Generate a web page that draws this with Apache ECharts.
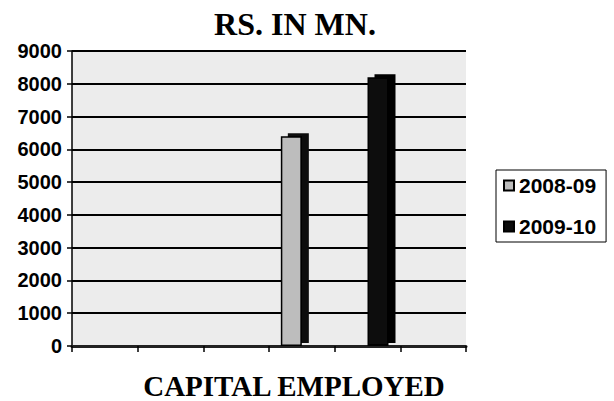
<!DOCTYPE html>
<html>
<head>
<meta charset="utf-8">
<script src="https://cdn.jsdelivr.net/npm/echarts@6/dist/echarts.min.js"></script>
<style>
  html, body { margin: 0; padding: 0; background: #fff; }
  #chart { width: 614px; height: 401px; }
</style>
</head>
<body>
<div id="chart"></div>
<script>
// categories on the x axis (unlabelled in the original)
var categories = ['', '', '', '', '', ''];
var seriesNames = ['2008-09', '2009-10'];
var values0809 = ['-', '-', '-', 6400, '-', '-'];
var values0910 = ['-', '-', '-', '-', 8200, '-'];
var yTicks = [0, 9000, 1000]; // min, max, step

var myChart = echarts.init(document.getElementById('chart'), null, { renderer: 'svg' });

var sans = '"Liberation Sans", Arial, sans-serif';
var serif = '"Liberation Serif", "Times New Roman", serif';

// dark side of the pseudo-3d column, only on the bars (not the legend icons)
function withSide(values, sideColor) {
    return values.map(function (v) {
        if (v === '-') return v;
        return {
            value: v,
            itemStyle: {
                shadowColor: sideColor,
                shadowBlur: 0,
                shadowOffsetX: 7,
                shadowOffsetY: -3
            }
        };
    });
}

var option = {
    animation: false,
    backgroundColor: '#fff',
    grid: {
        left: 72, right: 148, top: 51, bottom: 55,
        show: true,
        backgroundColor: '#ececec',
        borderWidth: 0
    },
    graphic: [{
        type: 'text',
        x: 295, y: 24,
        style: {
            text: 'RS. IN MN.',
            fill: '#000',
            font: 'bold 32px ' + serif,
            textAlign: 'center',
            textVerticalAlign: 'middle'
        }
    }, {
        type: 'text',
        x: 294, y: 386,
        style: {
            text: 'CAPITAL EMPLOYED',
            fill: '#000',
            font: 'bold 29px ' + serif,
            textAlign: 'center',
            textVerticalAlign: 'middle'
        }
    }],
    legend: {
        orient: 'vertical',
        left: 496,
        top: 170,
        padding: [5, 10, 5, 7],
        icon: 'rect',
        itemWidth: 10,
        itemHeight: 10,
        itemGap: 20,
        borderColor: '#000',
        borderWidth: 1,
        textStyle: { fontFamily: sans, fontWeight: 'bold', fontSize: 21, color: '#000' },
        data: seriesNames
    },
    xAxis: {
        type: 'category',
        data: categories,
        axisLine: { lineStyle: { color: '#222', width: 3 } },
        axisTick: { show: true, interval: 0, length: 6, lineStyle: { color: '#000', width: 1.5 } },
        axisLabel: { show: false },
        splitLine: { show: false }
    },
    yAxis: {
        type: 'value',
        min: yTicks[0],
        max: yTicks[1],
        interval: yTicks[2],
        axisLine: { show: true, lineStyle: { color: '#000', width: 1.5 } },
        axisTick: { show: true, length: 5, lineStyle: { color: '#000', width: 1.5 } },
        axisLabel: {
            margin: 10, fontFamily: sans, fontWeight: 'bold', fontSize: 20, color: '#000',
            formatter: function (v) { return String(v); }
        },
        splitLine: { lineStyle: { color: '#000', width: 2 } }
    },
    series: [{
        name: seriesNames[0],
        type: 'bar',
        data: withSide(values0809, '#111'),
        barWidth: 21,
        barGap: '0%',
        itemStyle: { color: '#bdbdbd', borderColor: '#000', borderWidth: 1.5 }
    }, {
        name: seriesNames[1],
        type: 'bar',
        data: withSide(values0910, '#000'),
        barWidth: 21,
        barGap: '0%',
        itemStyle: { color: '#0c0c0c', borderColor: '#000', borderWidth: 1.5 }
    }]
};

option && myChart.setOption(option);
</script>
</body>
</html>
